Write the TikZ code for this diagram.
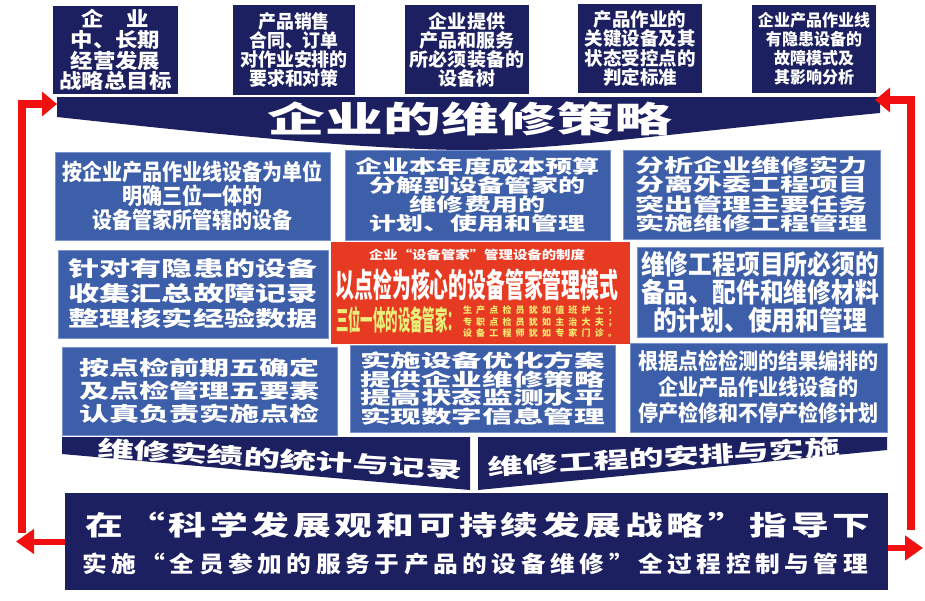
\documentclass[tikz,border=0pt]{standalone}
\usepackage{fontspec}
\setmainfont{Noto Sans CJK SC}
\usepackage{graphicx}
\usetikzlibrary{arrows.meta}
\definecolor{navy}{HTML}{1C1F60}
\definecolor{boxblue}{HTML}{3D5EA8}
\definecolor{boxedge}{HTML}{7A93CC}
\definecolor{boxred}{HTML}{E63B22}
\definecolor{arrred}{HTML}{F01010}
\definecolor{yel}{HTML}{F4EC70}
\definecolor{ygreen}{HTML}{E8F07A}
\newcommand\boxtxt[4]{\scalebox{#1}[1]{\fontsize{#2}{#3}\selectfont\lineskiplimit=-\maxdimen\vbox{\let\\\cr\halign{\hfil##\hfil\cr#4\crcr}}}}
\newcommand\spacedline[2]{\makebox[#1][s]{\spfirst#2\relax}}
\def\spfirst#1{#1\spnext}
\def\spnext#1{\ifx\relax#1\else\hfil#1\expandafter\spnext\fi}
\tikzset{
  topbox/.style={fill=navy, inner sep=0pt, text=white, font=\bfseries},
  bluebox/.style={fill=boxblue, draw=boxedge, line width=1pt, inner sep=0pt, text=white, font=\bfseries},
  redbox/.style={fill=boxred, inner sep=0pt},
  banner/.style={fill=navy},
  lbl/.style={inner sep=0pt, text=white, font=\bfseries},
  redloop/.style={draw=arrred, line width=8pt, -{Triangle[length=15pt,width=24pt]}},
  redout/.style={draw=arrred, line width=6pt, -{Triangle[length=18pt,width=24pt]}}
}
\begin{document}
\begin{tikzpicture}[x=1pt,y=-1pt]
\useasboundingbox[fill=white] (0,0) rectangle (925,600);

% top boxes
\node[topbox, minimum width=125pt, minimum height=88pt] (t1) at (115.5,50) {\boxtxt{1.12}{20}{20.7}{企　业\\中、长期\\经营发展\\战略总目标}};
\node[topbox, minimum width=122pt, minimum height=90pt] (t2) at (294,50) {\boxtxt{0.97}{18.5}{19}{产品销售\\合同、订单\\对作业安排的\\要求和对策}};
\node[topbox, minimum width=124pt, minimum height=89pt] (t3) at (467,49.5) {\boxtxt{1.03}{18.5}{19}{企业提供\\产品和服务\\所必须装备的\\设备树}};
\node[topbox, minimum width=124pt, minimum height=89pt] (t4) at (640,48.5) {\boxtxt{1.0}{18.5}{19.5}{产品作业的\\关键设备及其\\状态受控点的\\判定标准}};
\node[topbox, minimum width=124pt, minimum height=88pt] (t5) at (814,49) {\boxtxt{0.97}{16.5}{19}{企业产品作业线\\有隐患设备的\\故障模式及\\其影响分析}};

% strategy banner
\path[banner] (57,97) -- (880,97) -- (880,113) .. controls (700,130) and (560,150) .. (470,150) .. controls (380,150) and (250,138) .. (57,117) -- cycle;
\node[lbl] (title) at (470,119) {\boxtxt{1.63}{35.5}{36}{企业的维修策略}};

% row 1
\node[bluebox, minimum width=275pt, minimum height=88pt] (a) at (192.5,196) {\boxtxt{0.89}{22.5}{24}{按企业产品作业线设备为单位\\明确三位一体的\\设备管家所管辖的设备}};
\node[bluebox, minimum width=265pt, minimum height=90pt] (b) at (477.5,195) {\boxtxt{1.46}{18.5}{19}{企业本年度成本预算\\分解到设备管家的\\维修费用的\\计划、使用和管理}};
\node[bluebox, minimum width=257pt, minimum height=89pt] (c) at (751.5,194.5) {\boxtxt{1.57}{18.5}{19.5}{分析企业维修实力\\分离外委工程项目\\突出管理主要任务\\实施维修工程管理}};

% row 2
\node[bluebox, minimum width=270pt, minimum height=88pt] (d) at (193,294) {\boxtxt{1.48}{21}{25}{针对有隐患的设备\\收集汇总故障记录\\整理核实经验数据}};
\node[redbox, minimum width=299pt, minimum height=102pt] (e) at (480.5,293) {};
\node[lbl] (e1) at (477,255) {\boxtxt{1.2}{12}{12}{企业“设备管家”管理设备的制度}};
\node[lbl] (e2) at (477,285) {\boxtxt{0.57}{33}{33}{以点检为核心的设备管家管理模式}};
\node[lbl, text=ygreen] (e3) at (398,320) {\boxtxt{0.45}{27.5}{27.5}{三位一体的设备管家：}};
\node[lbl, text=yel] (e4) at (540,322) {\boxtxt{1}{9}{11.5}{\spacedline{154pt}{生产点检员犹如值班护士；}\\\spacedline{154pt}{专职点检员犹如主治大夫；}\\\spacedline{154pt}{设备工程师犹如专家门诊。}}};
\node[bluebox, minimum width=246pt, minimum height=90pt] (f) at (760,292) {\boxtxt{0.88}{27}{28}{维修工程项目所必须的\\备品、配件和维修材料\\的计划、使用和管理}};

% row 3
\node[bluebox, minimum width=275pt, minimum height=88pt] (g) at (199.5,391) {\boxtxt{1.5}{20}{23}{按点检前期五确定\\及点检管理五要素\\认真负责实施点检}};
\node[bluebox, minimum width=265pt, minimum height=87pt] (h) at (482.5,388.5) {\boxtxt{1.7}{18}{18.6}{实施设备优化方案\\提供企业维修策略\\提高状态监测水平\\实现数字信息管理}};
\node[bluebox, minimum width=257pt, minimum height=89pt] (i) at (758.5,387.5) {\boxtxt{0.91}{22}{26}{根据点检检测的结果编排的\\企业产品作业线设备的\\停产检修和不停产检修计划}};

% lower banners
\path[banner] (62,437) -- (470,437) -- (470,490) -- (62,454) -- cycle;
\node[lbl, rotate=-3.5] (lb) at (280,459) {\boxtxt{1.66}{22}{22}{维修实绩的统计与记录}};
\path[banner] (478,437) -- (887,437) -- (887,450) -- (478,490) -- cycle;
\node[lbl, rotate=3.4] (rb) at (664,457) {\boxtxt{1.6}{22}{22}{维修工程的安排与实施}};

% bottom box
\node[topbox, minimum width=823pt, minimum height=97pt] (bottom) at (476.5,541.5) {};
\node[lbl] (bt1) at (478,525) {\scalebox{1.4}[1]{\fontsize{27}{27}\selectfont\spacedline{560.7pt}{在“科学发展观和可持续发展战略”指导下}}};
\node[lbl] (bt2) at (475,564) {\scalebox{1.1}[1]{\fontsize{22.5}{23}\selectfont\spacedline{714.5pt}{实施“全员参加的服务于产品的设备维修”全过程控制与管理}}};

% red arrows
\coordinate (lstart) at (22,533);
\coordinate (ltip) at (57,104);
\coordinate (lend) at (16,541.5);
\coordinate (rstart) at (911,530);
\coordinate (rtip) at (875,100);
\coordinate (rend) at (923,548);
\draw[redloop] (lstart) |- (ltip);
\draw[redloop] (rstart) |- (rtip);
\draw[redout] (bottom.west) -- (lend);
\draw[redout] (bottom.east |- rend) -- (rend);
\end{tikzpicture}
\end{document}
